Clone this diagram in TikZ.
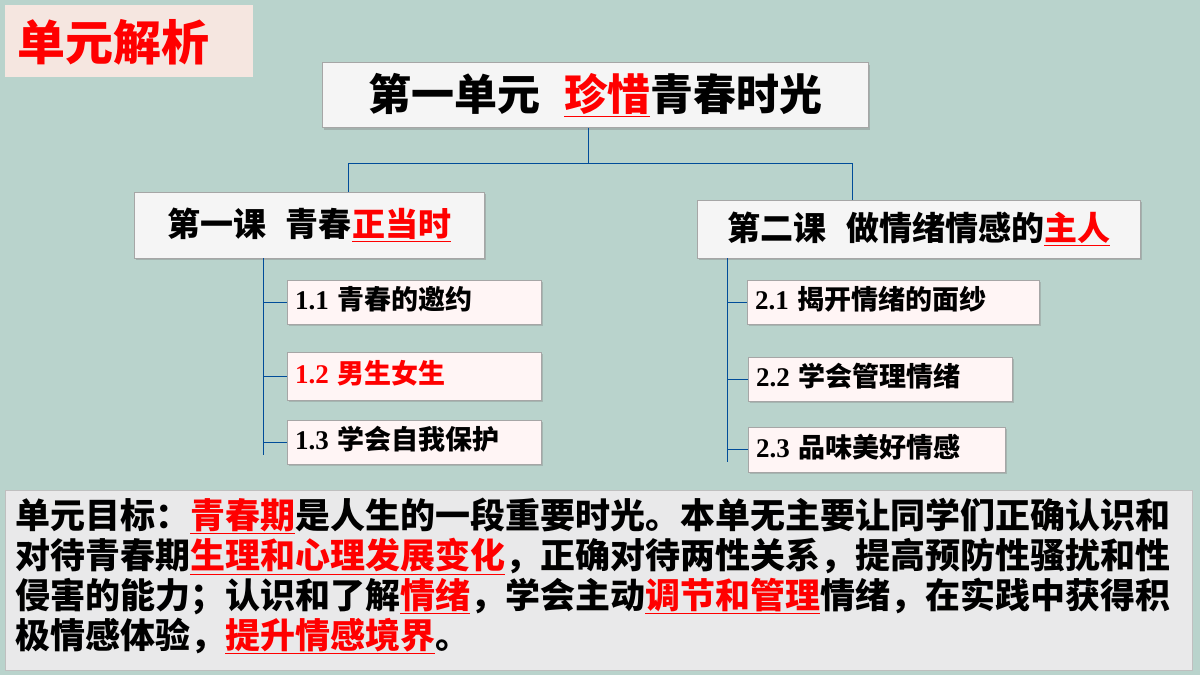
\documentclass[tikz,border=0pt]{standalone}
\usepackage{fontspec}
\newfontfamily\cjk{Noto Sans CJK SC}
\newfontfamily\serifb{Liberation Serif}
\usetikzlibrary{shadows}
\newcommand{\RU}[1]{\textcolor{red}{\underline{#1}}}
\begin{document}
\begin{tikzpicture}[x=1pt,y=-1pt,
  bx/.style={draw=gray!70,fill=white!92!gray,drop shadow={shadow xshift=2pt,shadow yshift=-2pt,opacity=0.4}},
  pk/.style={draw=gray!70,fill=red!4,drop shadow={shadow xshift=2pt,shadow yshift=-2pt,opacity=0.35}},
  ln/.style={draw=blue!50!cyan!60!black,line width=0.8pt}]
\fill[fill={rgb,255:red,185;green,211;blue,204}] (0,0) rectangle (1200,675);
\useasboundingbox (0,0) rectangle (1200,675);
% title tag
\node[fill={rgb,255:red,245;green,230;blue,224},minimum width=248,minimum height=72,anchor=north west] (tag) at (5,5) {};
\node[anchor=west,text=red,font=\cjk\bfseries\fontsize{48}{48}\selectfont] (tagt) at (14,42) {单元解析};
% main
\node[bx,minimum width=546,minimum height=65,font=\cjk\bfseries\fontsize{43}{43}\selectfont] (main) at (595,95) {第一单元\hspace{24pt}\RU{珍惜}青春时光};
\node[bx,minimum width=350,minimum height=66,font=\cjk\bfseries\fontsize{33}{33}\selectfont] (k1) at (309,225) {第一课\hspace{20pt}青春\RU{正当时}};
\node[bx,minimum width=443,minimum height=58,font=\cjk\bfseries\fontsize{33}{33}\selectfont] (k2) at (918.5,229) {第二课\hspace{20pt}做情绪情感的\RU{主人}};
\coordinate (m) at (588,163);
\draw[ln] (main.south -| m) -- (m);
\draw[ln] (348,163) -- (852,163);
\draw[ln] (348,163) -- (348,192);
\draw[ln] (852,163) -- (852,200);
% sub boxes
\tikzset{sb/.style={pk,anchor=north west,minimum height=44,font=\cjk\bfseries\fontsize{27}{27}\selectfont,inner xsep=8pt,text height=20pt,text depth=5pt,align=left}}
\node[sb,text width=238] (a1) at (287,280) {\serifb\bfseries 1.1 \cjk 青春的邀约};
\node[sb,text width=238,minimum height=48,text=red] (a2) at (287,352) {\serifb\bfseries 1.2 \cjk 男生女生};
\node[sb,text width=238] (a3) at (287,420) {\serifb\bfseries 1.3 \cjk 学会自我保护};
\node[sb,text width=276] (b1) at (747,280) {\serifb\bfseries 2.1 \cjk 揭开情绪的面纱};
\node[sb,text width=248] (b2) at (748,357) {\serifb\bfseries 2.2 \cjk 学会管理情绪};
\node[sb,text width=241,minimum height=45] (b3) at (748,427) {\serifb\bfseries 2.3 \cjk 品味美好情感};
\draw[ln] (263,258) -- (263,455);
\foreach \n in {a1,a2,a3} \draw[ln] (\n.west -| 263,0) -- (\n.west);
\draw[ln] (727,258) -- (727,462);
\foreach \n in {b1,b2,b3} \draw[ln] (\n.west -| 727,0) -- (\n.west);
% bottom
\node[fill={rgb,255:red,233;green,233;blue,234},draw=gray!50,minimum width=1187,minimum height=180,anchor=north west] (bot) at (5,490) {};
\node[anchor=north west,align=left,inner sep=0,font=\cjk\bfseries\fontsize{35}{40}\selectfont] (bt) at (15,498) {单元目标：\RU{青春期}是人生的一段重要时光。本单无主要让同学们正确认识和\\
对待青春期\RU{生理和心理发展变化}，正确对待两性关系，提高预防性骚扰和性\\
侵害的能力；认识和了解\RU{情绪}，学会主动\RU{调节和管理}情绪，在实践中获得积\\
极情感体验，\RU{提升情感境界}。};
\end{tikzpicture}
\end{document}
